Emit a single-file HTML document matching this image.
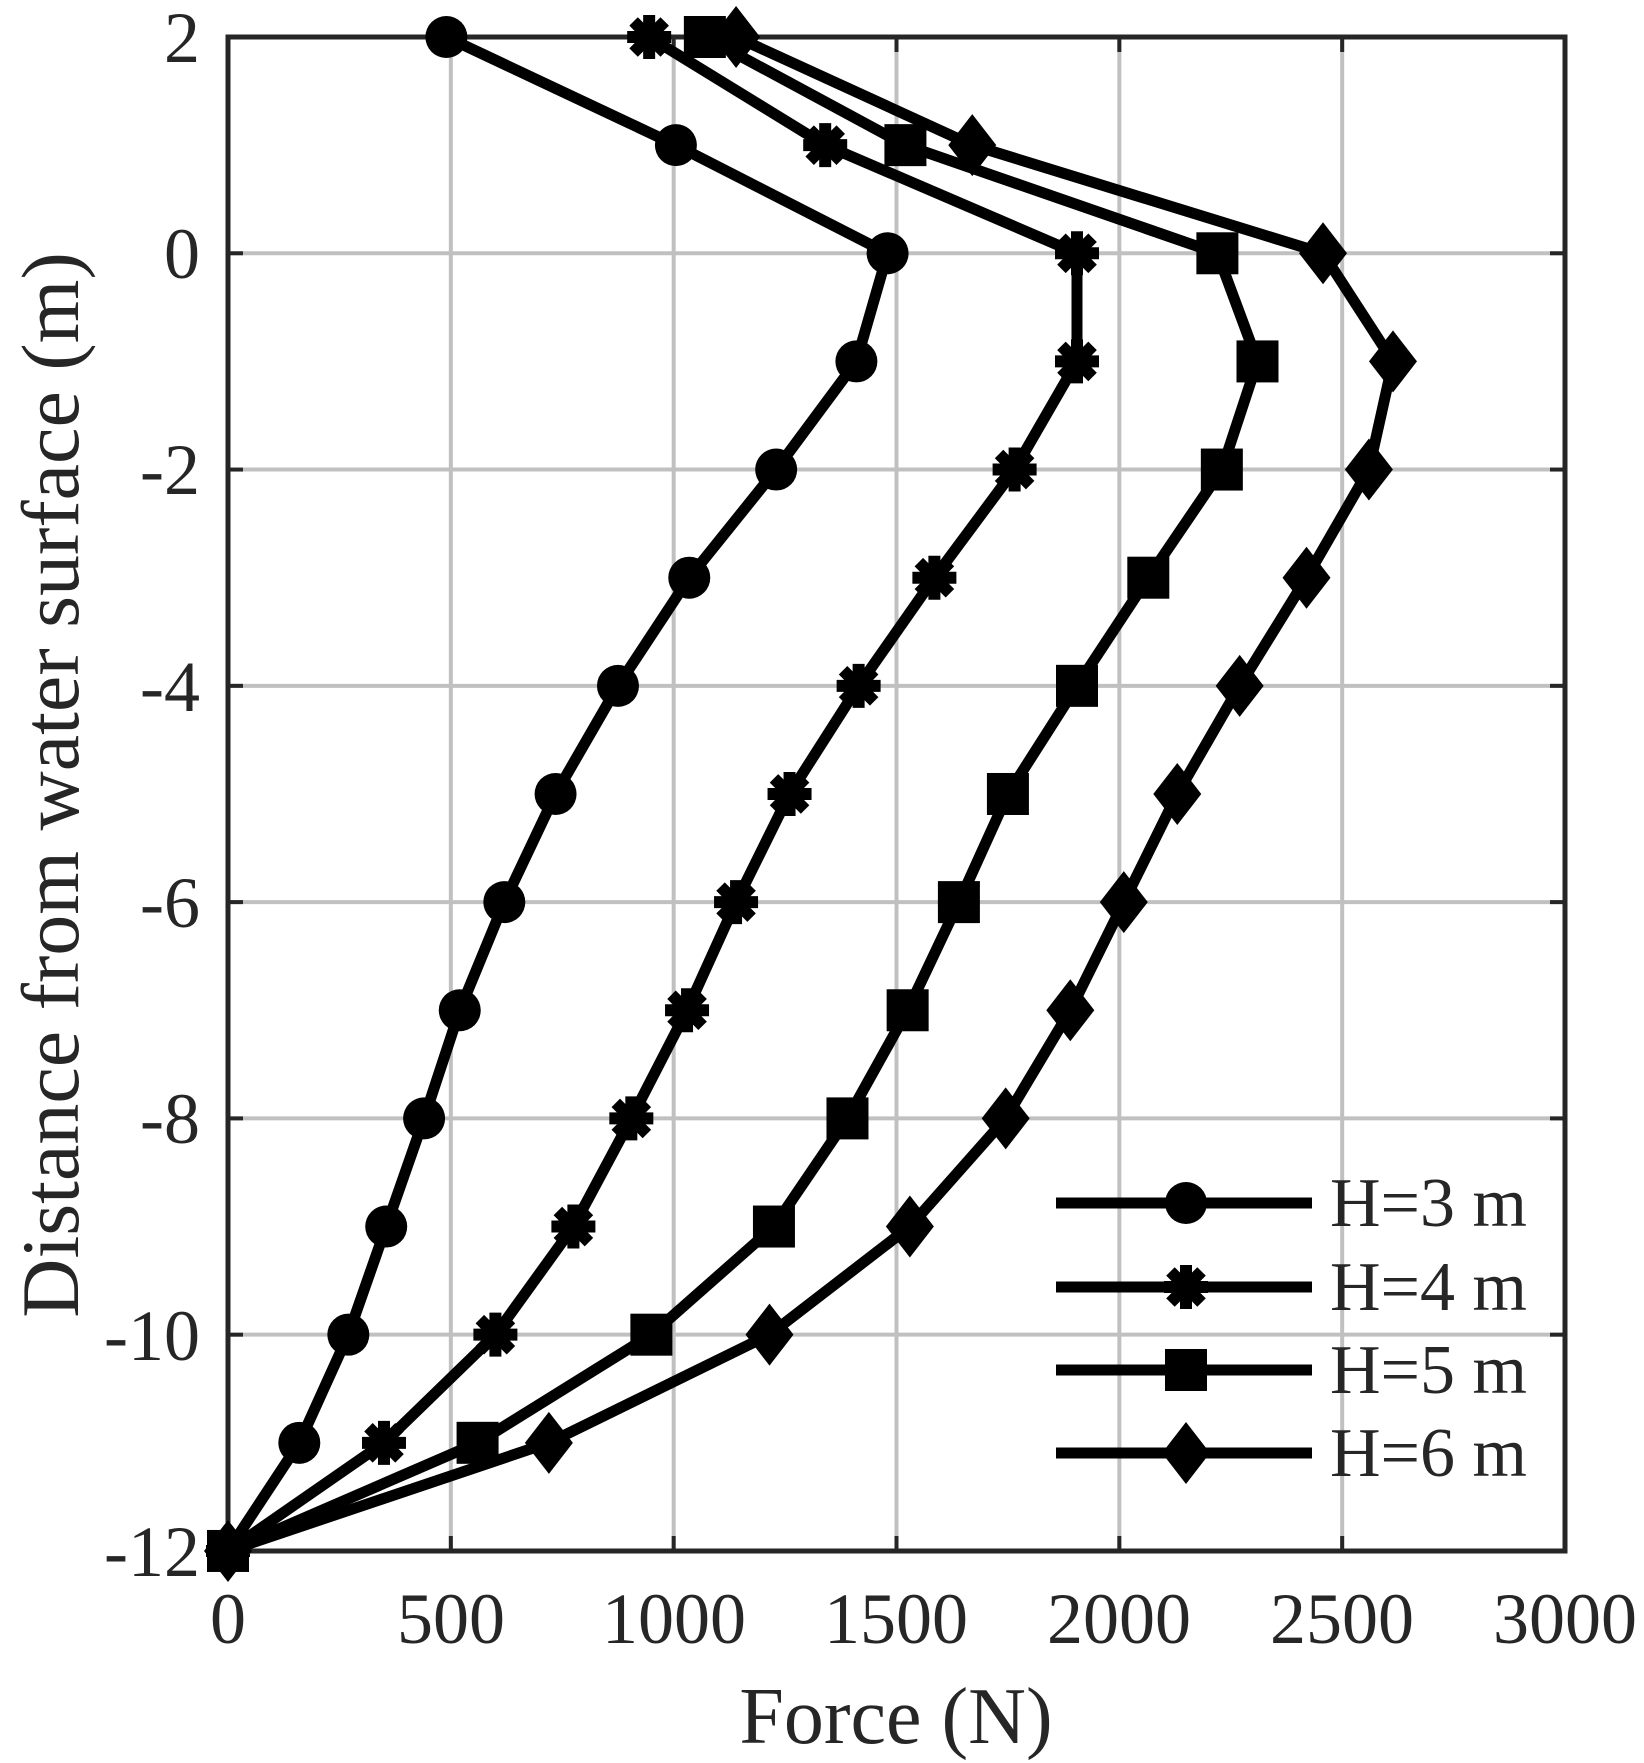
<!DOCTYPE html>
<html><head><meta charset="utf-8"><style>
html,body{margin:0;padding:0;background:#fff;}
svg{display:block;}
text{font-family:"Liberation Serif",serif;fill:#262626;}
</style></head><body>
<svg id="s" width="1644" height="1763" viewBox="0 0 1644 1763" xmlns="http://www.w3.org/2000/svg">
<rect width="1644" height="1763" fill="#fff"/>
<g id="grid" stroke="#c0c0c0" stroke-width="4"></g>
<g id="ticks" stroke="#262626" stroke-width="4"></g>
<rect x="228" y="37" width="1337" height="1514" fill="none" stroke="#262626" stroke-width="5"/>
<g font-size="72" text-anchor="end">
<text x="200" y="62">2</text>
<text x="200" y="278">0</text>
<text x="200" y="494">-2</text>
<text x="200" y="711">-4</text>
<text x="200" y="927">-6</text>
<text x="200" y="1143">-8</text>
<text x="200" y="1360">-10</text>
<text x="200" y="1576">-12</text>
</g>
<g font-size="72" text-anchor="middle">
<text x="228" y="1643">0</text>
<text x="451" y="1643">500</text>
<text x="674" y="1643">1000</text>
<text x="896" y="1643">1500</text>
<text x="1119" y="1643">2000</text>
<text x="1342" y="1643">2500</text>
<text x="1565" y="1643">3000</text>
</g>
<text x="896" y="1743" font-size="80" text-anchor="middle">Force (N)</text>
<text transform="translate(78,785) rotate(-90)" font-size="82" text-anchor="middle">Distance from water surface (m)</text>
<g id="data"></g>
<g id="legend"></g>
<g font-size="70">
<text x="1330" y="1226">H=3 m</text>
<text x="1330" y="1310">H=4 m</text>
<text x="1330" y="1393">H=5 m</text>
<text x="1330" y="1476">H=6 m</text>
</g>
</svg>
<script>
var NS="http://www.w3.org/2000/svg";
function X(v){return 228+v*0.44567;}
function Y(v){return 37+(2-v)*108.14;}
function el(p,n,a){var e=document.createElementNS(NS,n);for(var k in a)e.setAttribute(k,a[k]);p.appendChild(e);return e;}
var g=document.getElementById('grid'),t=document.getElementById('ticks');
for(var i=1;i<6;i++){var x=X(i*500);el(g,'line',{x1:x,x2:x,y1:37,y2:1551});el(t,'line',{x1:x,x2:x,y1:1551,y2:1536});el(t,'line',{x1:x,x2:x,y1:37,y2:52});}
for(var v=0;v>-12;v-=2){var y=Y(v);el(g,'line',{x1:228,x2:1565,y1:y,y2:y});el(t,'line',{x1:228,x2:243,y1:y,y2:y});el(t,'line',{x1:1565,x2:1550,y1:y,y2:y});}
var ys=[2,1,0,-1,-2,-3,-4,-5,-6,-7,-8,-9,-10,-11,-12];
var D=[
[490,1005,1480,1410,1230,1035,875,735,620,520,440,355,270,160,0],
[945,1340,1905,1905,1765,1585,1415,1260,1140,1030,905,775,600,350,0],
[1070,1520,2220,2310,2230,2065,1905,1750,1640,1525,1390,1225,950,560,0],
[1140,1670,2457,2614,2560,2420,2270,2130,2010,1890,1745,1530,1215,720,0]];
var dg=document.getElementById('data');
function marker(p,k,x,y){
 if(k==0)el(p,'circle',{cx:x,cy:y,r:21,fill:'#000'});
 else if(k==1){for(var j=0;j<4;j++){var a=j*Math.PI/4;el(p,'line',{x1:x-22*Math.cos(a),y1:y-22*Math.sin(a),x2:x+22*Math.cos(a),y2:y+22*Math.sin(a),stroke:'#000','stroke-width':12});}el(p,'circle',{cx:x,cy:y,r:12,fill:'#000'});}
 else if(k==2)el(p,'rect',{x:x-21,y:y-21,width:42,height:42,fill:'#000'});
 else el(p,'polygon',{points:(x)+','+(y-31)+' '+(x+24)+','+y+' '+x+','+(y+31)+' '+(x-24)+','+y,fill:'#000'});
}
D.forEach(function(s,k){
 var pts=s.map(function(f,i){return X(f)+','+Y(ys[i]);}).join(' ');
 el(dg,'polyline',{points:pts,fill:'none',stroke:'#000','stroke-width':11,'stroke-linejoin':'round'});
});
D.forEach(function(s,k){s.forEach(function(f,i){marker(dg,k,X(f),Y(ys[i]));});});
var lg=document.getElementById('legend');var ly=[1203,1287,1370,1453];
for(var k=0;k<4;k++){el(lg,'line',{x1:1056,x2:1312,y1:ly[k],y2:ly[k],stroke:'#000','stroke-width':11});marker(lg,k,1186,ly[k]);}
</script>
</body></html>
